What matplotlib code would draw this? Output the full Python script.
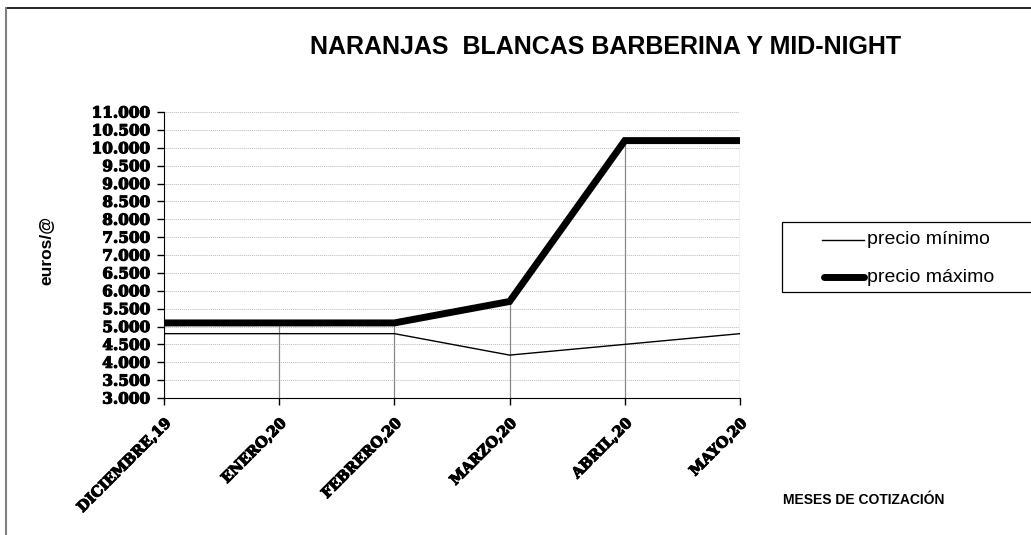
import matplotlib
matplotlib.use("Agg")
import matplotlib.pyplot as plt
import matplotlib.patheffects as pe
from matplotlib.lines import Line2D
from matplotlib.patches import Rectangle

months = ["DICIEMBRE,19", "ENERO,20", "FEBRERO,20", "MARZO,20", "ABRIL,20", "MAYO,20"]
precio_minimo = [4.8, 4.8, 4.8, 4.2, 4.5, 4.8]
precio_maximo = [5.1, 5.1, 5.1, 5.7, 10.2, 10.2]
yticks = [3.0 + 0.5 * i for i in range(17)]
ytick_labels = [f"{v:.3f}" for v in yticks]
series_names = ["precio mínimo", "precio máximo"]

W, H = 1031, 535
fig = plt.figure(figsize=(W / 100, H / 100), dpi=100)
ax = fig.add_axes([164 / W, 1 - 398 / H, (740 - 164) / W, (398 - 112) / H])

x = list(range(len(months)))
# drop lines
ax.vlines(x, 3.0, [max(a, b) for a, b in zip(precio_minimo, precio_maximo)],
          colors="#888888", linewidth=0.9, zorder=1)
ax.plot(x, precio_minimo, color="black", linewidth=1.0, zorder=3)
ax.plot(x, precio_maximo, color="black", linewidth=5, zorder=4,
        solid_capstyle="butt", solid_joinstyle="miter")

ax.set_xlim(0, len(months) - 1)
ax.set_ylim(3.0, 11.0)
ax.set_yticks(yticks)
ax.set_yticklabels(ytick_labels)
ax.set_xticks(x)
ax.set_xticklabels(months, rotation=45, ha="right", rotation_mode="anchor")
ax.yaxis.grid(True, linestyle=(0, (1, 1)), color="#bbbbbb", linewidth=0.7)
ax.set_axisbelow(True)
for s in ["top", "right"]:
    ax.spines[s].set_visible(False)
ax.tick_params(axis="both", direction="out", length=5, width=1, colors="black")
ax.tick_params(axis="x", pad=8)
ax.tick_params(axis="y", pad=5)
for lab in ax.get_yticklabels() + ax.get_xticklabels():
    lab.set_fontfamily("DejaVu Serif")
    lab.set_fontweight("bold")
    lab.set_fontsize(11)
    lab.set_path_effects([pe.withStroke(linewidth=0.8, foreground="black")])
for lab in ax.get_xticklabels():
    lab.set_fontsize(10.5)

fig.text(606 / W, 1 - 47 / H, "NARANJAS  BLANCAS BARBERINA Y MID-NIGHT",
         ha="center", va="center", fontsize=18, fontweight="bold", family="Liberation Sans")
fig.text(47 / W, 1 - 250 / H, "euros/@", ha="center", va="center", rotation=90,
         fontsize=12.5, fontweight="bold", family="Liberation Sans")
fig.text(864 / W, 1 - 500 / H, "MESES DE COTIZACIÓN", ha="center", va="center",
         fontsize=10, fontweight="bold", family="Liberation Sans")

# legend (drawn manually to match the position)
fig.add_artist(Rectangle((782 / W, 1 - 292 / H), (1040 - 782) / W, 70 / H,
                         transform=fig.transFigure, facecolor="white",
                         edgecolor="black", linewidth=0.9))
fig.add_artist(Line2D([822 / W, 864 / W], [1 - 240 / H, 1 - 240 / H], color="black",
                      linewidth=1.0, transform=fig.transFigure))
fig.add_artist(Line2D([824 / W, 864 / W], [1 - 277 / H, 1 - 277 / H], color="black",
                      linewidth=5, solid_capstyle="round", transform=fig.transFigure))
fig.text(867 / W, 1 - 240 / H, series_names[0], ha="left", va="center",
         fontsize=14, family="Liberation Sans")
fig.text(867 / W, 1 - 277 / H, series_names[1], ha="left", va="center",
         fontsize=14, family="Liberation Sans")

# outer chart border
fig.add_artist(Line2D([6 / W, 1.0], [1 - 8 / H, 1 - 8 / H], color="black", linewidth=1.2,
                      transform=fig.transFigure))
fig.add_artist(Line2D([6 / W, 6 / W], [0.0, 1 - 8 / H], color="#808080", linewidth=1.5,
                      transform=fig.transFigure))

fig.savefig("out.png", dpi=100)
